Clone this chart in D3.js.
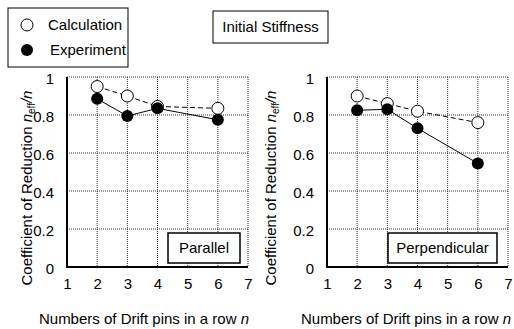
<!DOCTYPE html>
<html>
<head>
<meta charset="utf-8">
<script src="https://cdn.jsdelivr.net/npm/d3@7"></script>
<style>
  body { margin: 0; background: #fff; }
  svg { font-family: "Liberation Sans", Arial, sans-serif; }
</style>
</head>
<body>
<div id="chart"></div>
<script>
// Data
const pins = [2, 3, 4, 6];
const parallelCalc = [0.95, 0.90, 0.845, 0.835];
const parallelExp = [0.885, 0.795, 0.835, 0.775];
const perpCalc = [0.90, 0.86, 0.82, 0.76];
const perpExp = [0.825, 0.83, 0.73, 0.545];
const xTicks = [1, 2, 3, 4, 5, 6, 7];
const yTicks = [0, 0.2, 0.4, 0.6, 0.8, 1];

const W = 514, H = 329;
const fs = 15;

const svg = d3.select("#chart").append("svg")
  .attr("width", W)
  .attr("height", H);

// panels
const panels = [
  { left: 67, calc: parallelCalc, exp: parallelExp, label: "Parallel", box: [168, 240],
    yTitleX: 27, xTitleX: 144 },
  { left: 327, calc: perpCalc, exp: perpExp, label: "Perpendicular", box: [388, 497],
    yTitleX: 271, xTitleX: 406 }
];
const plotTop = 77, plotBottom = 267, pw = 181;

panels.forEach((p) => {
  const g = svg.append("g").attr("transform", "translate(" + p.left + "," + plotTop + ")");
  const h = plotBottom - plotTop;

  const x = d3.scaleLinear().domain([1, 7]).range([0, pw]);
  const y = d3.scaleLinear().domain([0, 1]).range([h, 0]);

  // grid lines (dotted)
  g.append("g")
    .selectAll("line.vg")
    .data(xTicks.slice(1))
    .enter().append("line")
    .attr("x1", d => x(d)).attr("x2", d => x(d))
    .attr("y1", 0).attr("y2", h)
    .attr("stroke", "#333")
    .attr("stroke-width", 1)
    .attr("stroke-dasharray", "1,1");

  g.append("g")
    .selectAll("line.hg")
    .data(yTicks.slice(1))
    .enter().append("line")
    .attr("x1", 0).attr("x2", pw)
    .attr("y1", d => y(d)).attr("y2", d => y(d))
    .attr("stroke", "#333")
    .attr("stroke-width", 1)
    .attr("stroke-dasharray", "1,1");

  // axes
  const xAxis = g.append("g")
    .attr("transform", "translate(0," + h + ")")
    .call(d3.axisBottom(x).tickValues(xTicks).tickSize(0).tickPadding(11).tickFormat(d3.format("d")));
  xAxis.select(".domain").remove();
  xAxis.selectAll("text").style("font-size", fs + "px").attr("fill", "#000");

  const yAxis = g.append("g")
    .call(d3.axisLeft(y).tickValues(yTicks).tickSize(0).tickPadding(13).tickFormat(d => d === 0 || d === 1 ? d3.format("d")(d) : d3.format(".1f")(d)));
  yAxis.select(".domain").remove();
  yAxis.selectAll("text").style("font-size", fs + "px").attr("fill", "#000").attr("dy", "0.45em");

  // solid left and bottom axis lines
  g.append("line").attr("x1", 0).attr("x2", 0).attr("y1", 0).attr("y2", h)
    .attr("stroke", "#000").attr("stroke-width", 2);
  g.append("line").attr("x1", -1).attr("x2", pw).attr("y1", h).attr("y2", h)
    .attr("stroke", "#000").attr("stroke-width", 2);

  // data lines
  const line = d3.line()
    .x((d, i) => x(pins[i]))
    .y(d => y(d));

  g.append("path")
    .datum(p.calc)
    .attr("d", line)
    .attr("fill", "none")
    .attr("stroke", "#000")
    .attr("stroke-width", 1)
    .attr("stroke-dasharray", "5,3");

  g.append("path")
    .datum(p.exp)
    .attr("d", line)
    .attr("fill", "none")
    .attr("stroke", "#000")
    .attr("stroke-width", 1);

  g.selectAll("circle.calc")
    .data(p.calc)
    .enter().append("circle")
    .attr("cx", (d, i) => x(pins[i]))
    .attr("cy", d => y(d))
    .attr("r", 6)
    .attr("fill", "#fff")
    .attr("stroke", "#000")
    .attr("stroke-width", 1);

  g.selectAll("circle.exp")
    .data(p.exp)
    .enter().append("circle")
    .attr("cx", (d, i) => x(pins[i]))
    .attr("cy", d => y(d))
    .attr("r", 6)
    .attr("fill", "#000");

  // panel label box
  svg.append("rect")
    .attr("x", p.box[0]).attr("y", 233)
    .attr("width", p.box[1] - p.box[0]).attr("height", 30)
    .attr("fill", "#fff").attr("stroke", "#000").attr("stroke-width", 1.5);
  svg.append("text")
    .attr("x", (p.box[0] + p.box[1]) / 2).attr("y", 248)
    .attr("dy", "0.36em")
    .attr("text-anchor", "middle")
    .style("font-size", fs + "px")
    .text(p.label);

  // axis titles
  const yt = svg.append("text")
    .attr("transform", "translate(" + (p.yTitleX + 5) + ",188) rotate(-90)")
    .attr("text-anchor", "middle")
    .style("font-size", fs + "px");
  yt.append("tspan").text("Coefficient of Reduction ");
  yt.append("tspan").style("font-style", "italic").text("n");
  yt.append("tspan").style("font-size", "10px").attr("dy", 3).text("eff");
  yt.append("tspan").attr("dy", -3).style("font-style", "italic").text("/n");

  const xt = svg.append("text")
    .attr("x", p.xTitleX).attr("y", 324)
    .attr("text-anchor", "middle")
    .style("font-size", fs + "px");
  xt.append("tspan").text("Numbers of Drift pins in a row ");
  xt.append("tspan").style("font-style", "italic").text("n");
});

// legend
svg.append("rect")
  .attr("x", 8).attr("y", 8).attr("width", 120).attr("height", 59)
  .attr("fill", "#fff").attr("stroke", "#000").attr("stroke-width", 1);
svg.append("circle").attr("cx", 27).attr("cy", 25).attr("r", 6)
  .attr("fill", "#fff").attr("stroke", "#000").attr("stroke-width", 1);
svg.append("circle").attr("cx", 27).attr("cy", 50).attr("r", 6).attr("fill", "#000");
svg.append("text").attr("x", 48).attr("y", 25).attr("dy", "0.36em")
  .style("font-size", fs + "px").text("Calculation");
svg.append("text").attr("x", 50).attr("y", 50).attr("dy", "0.36em")
  .style("font-size", fs + "px").text("Experiment");

// title box
svg.append("rect")
  .attr("x", 213).attr("y", 11).attr("width", 115).attr("height", 32)
  .attr("fill", "#fff").attr("stroke", "#000").attr("stroke-width", 1);
svg.append("text").attr("x", 270.5).attr("y", 27).attr("dy", "0.36em")
  .attr("text-anchor", "middle")
  .style("font-size", fs + "px").text("Initial Stiffness");
</script>
</body>
</html>
